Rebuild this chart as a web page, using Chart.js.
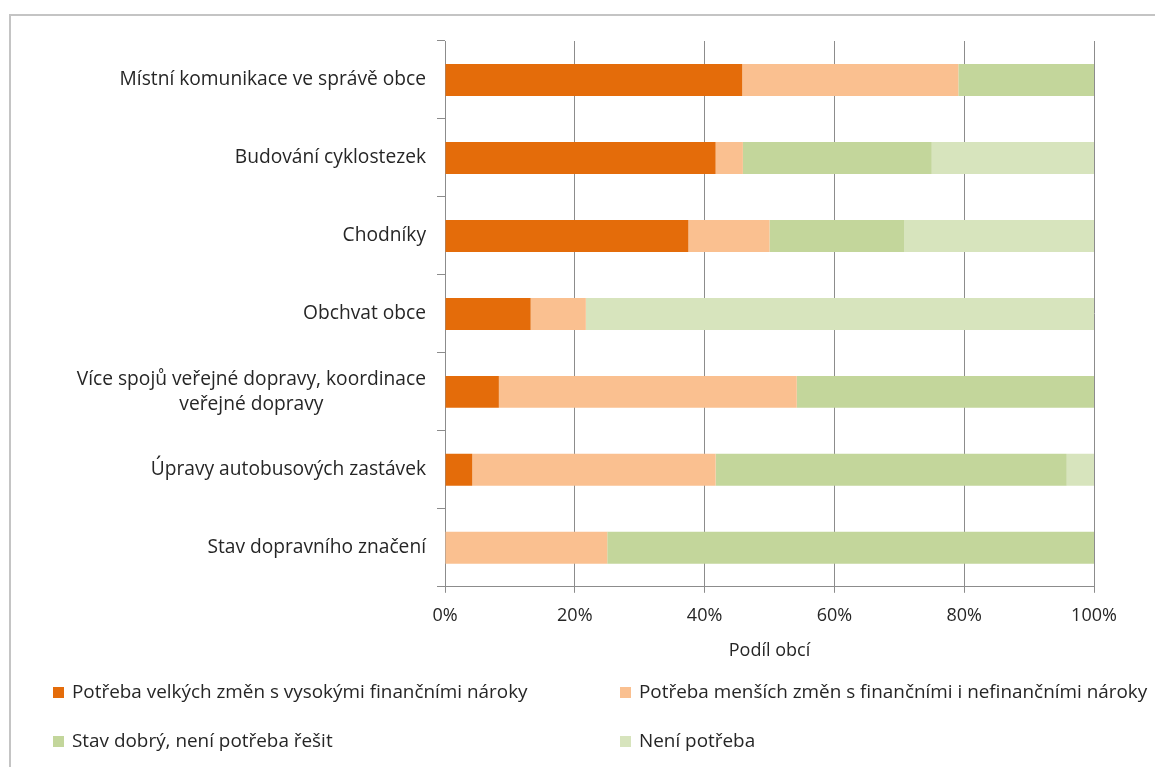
<!DOCTYPE html>
<html>
<head>
<meta charset="utf-8">
<script src="https://cdn.jsdelivr.net/npm/chart.js@4"></script>
<style>
  html, body { margin: 0; padding: 0; background: #fff; overflow: hidden; }
  #wrap { position: relative; width: 1155px; height: 767px; }
  #frame { position: absolute; left: 9px; top: 14px; width: 1200px; height: 800px; border: 2px solid #c4c4c4; box-sizing: border-box; }
  #myChart { position: absolute; left: 0; top: 0; }
  .leg { position: absolute; font-family: 'Open Sans', sans-serif; font-size: 18.9px; line-height: 22px; color: #262626; white-space: nowrap; }
  .leg i { display: inline-block; width: 11px; height: 11px; margin-right: 8px; vertical-align: 0px; }
</style>
</head>
<body>
<div id="wrap">
  <div id="frame"></div>
  <canvas id="myChart" width="1155" height="767"></canvas>
  <div id="legend"></div>
</div>
<script>
const categories = [
  'Místní komunikace ve správě obce',
  'Budování cyklostezek',
  'Chodníky',
  'Obchvat obce',
  ['Více spojů veřejné dopravy, koordinace', 'veřejné dopravy'],
  'Úpravy autobusových zastávek',
  'Stav dopravního značení'
];
const seriesNames = [
  'Potřeba velkých změn s vysokými finančními nároky',
  'Potřeba menších změn s finančními i nefinančními nároky',
  'Stav dobrý, není potřeba řešit',
  'Není potřeba'
];
const velkeZmeny = [45.8, 41.7, 37.5, 13.2, 8.3, 4.2, 0];
const mensiZmeny = [33.3, 4.2, 12.5, 8.5, 45.9, 37.5, 25.0];
const stavDobry = [20.9, 29.1, 20.8, 0, 45.8, 54.1, 75.0];
const neniPotreba = [0, 25.0, 29.2, 78.3, 0, 4.2, 0];
const xTicks = ['0%', '20%', '40%', '60%', '80%', '100%'];
const colors = ['#e46c0a', '#fac090', '#c3d69b', '#d7e4bd'];

const labelFont = '19.2px "Open Sans", sans-serif';

// vlastni popisky kategorii (druhy radek vycentrovany jako v Excelu)
const categoryLabels = {
  id: 'categoryLabels',
  afterDraw(chart) {
    const ctx = chart.ctx;
    const y = chart.scales.y;
    const right = y.right - 19;
    ctx.save();
    ctx.font = labelFont;
    ctx.fillStyle = '#262626';
    ctx.textBaseline = 'middle';
    categories.forEach(function(cat, i) {
      const lines = Array.isArray(cat) ? cat : [cat];
      const yc = y.getPixelForValue(i);
      const lh = 25;
      const widest = Math.max(...lines.map(l => ctx.measureText(l).width));
      lines.forEach(function(line, j) {
        const ly = yc + (j - (lines.length - 1) / 2) * lh;
        if (lines.length > 1) {
          ctx.textAlign = 'center';
          ctx.fillText(line, right - widest / 2, ly);
        } else {
          ctx.textAlign = 'right';
          ctx.fillText(line, right, ly);
        }
      });
    });
    ctx.restore();
  }
};

const data = {
  labels: categories,
  datasets: [velkeZmeny, mensiZmeny, stavDobry, neniPotreba].map(function(values, i) {
    return {
      label: seriesNames[i],
      data: values,
      backgroundColor: colors[i],
      borderWidth: 0,
      barPercentage: 0.41,
      categoryPercentage: 1
    };
  })
};

const config = {
  type: 'bar',
  data: data,
  options: {
    indexAxis: 'y',
    responsive: false,
    animation: false,
    layout: { padding: { top: 41, right: 61, left: 0, bottom: 105 } },
    plugins: {
      legend: { display: false },
      tooltip: { enabled: false }
    },
    scales: {
      x: {
        stacked: true,
        min: 0,
        max: 100,
        ticks: {
          stepSize: 20,
          padding: 12,
          color: '#262626',
          font: { family: 'Open Sans', size: 18 },
          callback: function(v) { return xTicks[v / 20]; }
        },
        grid: { color: '#8c8c8c', lineWidth: 1, tickLength: 6 },
        border: { color: '#8c8c8c' },
        title: {
          display: true,
          text: 'Podíl obcí',
          color: '#262626',
          font: { family: 'Open Sans', size: 18 },
          padding: { top: 2, bottom: 0 }
        }
      },
      y: {
        stacked: true,
        ticks: { display: false },
        grid: { drawOnChartArea: false, drawTicks: true, tickLength: 8, offset: true, color: '#8c8c8c' },
        border: { color: '#8c8c8c' },
        afterFit: function(scale) { scale.width = 445; }
      }
    }
  },
  plugins: [categoryLabels]
};

const ctx = document.getElementById('myChart').getContext('2d');
const myChart = new Chart(ctx, config);

// legenda ve dvou sloupcich
const legendPos = [[53, 691], [620, 691], [53, 740], [620, 740]];
const legendBox = document.getElementById('legend');
seriesNames.forEach(function(name, i) {
  const el = document.createElement('div');
  el.className = 'leg';
  el.style.left = legendPos[i][0] + 'px';
  el.style.top = (legendPos[i][1] - 11) + 'px';
  el.innerHTML = '<i style="background:' + colors[i] + '"></i>' + name;
  legendBox.appendChild(el);
});
</script>
</body>
</html>
